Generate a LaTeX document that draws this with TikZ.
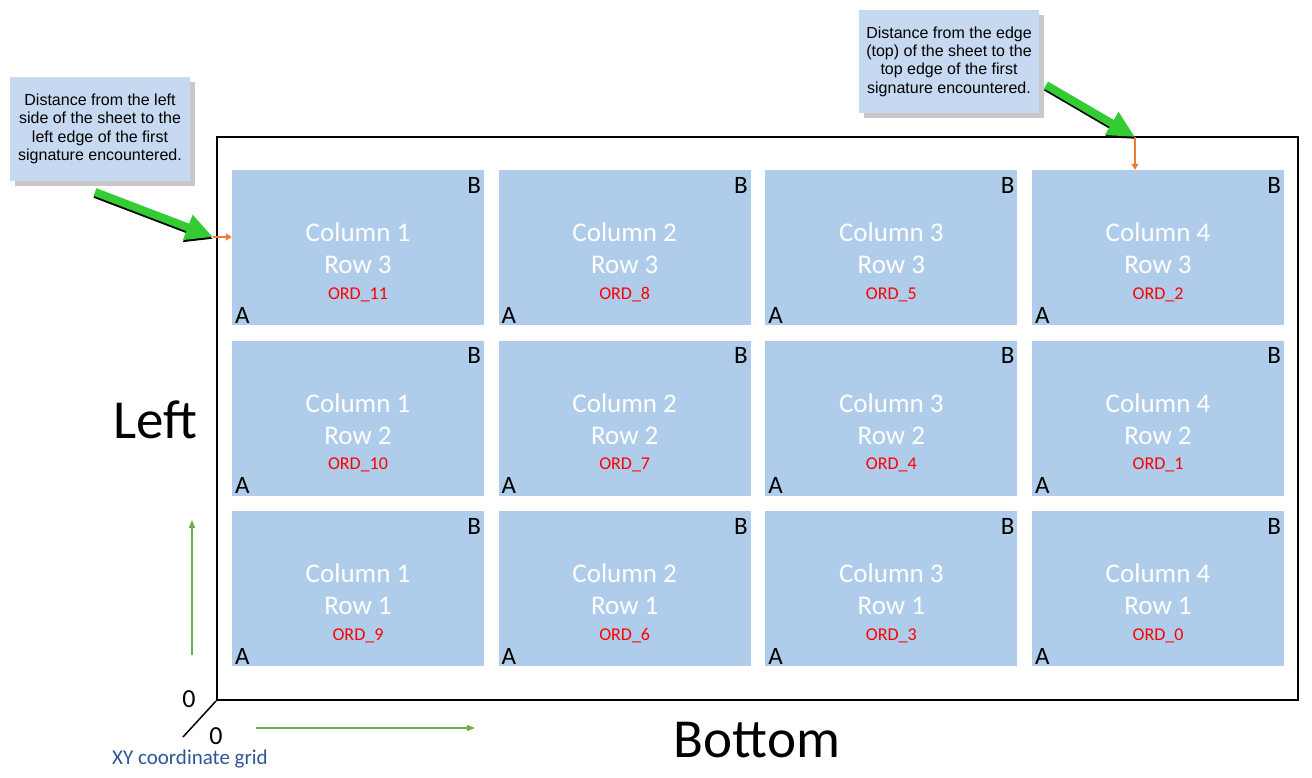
\documentclass[tikz,border=0pt]{standalone}
\usepackage{fontspec}
\setmainfont{Carlito}
\newfontfamily\calloutfont{Liberation Sans}
\usepackage{tikz}
\usetikzlibrary{arrows.meta, shadows}
\usepackage{xcolor}
\definecolor{cellBlue}{HTML}{AFCDEA}
\definecolor{calloutBlue}{HTML}{C6D9F0}
\definecolor{shadowGray}{HTML}{C8C8C8}
\definecolor{fatGreen}{HTML}{33CC33}
\definecolor{tickOrange}{HTML}{ED7D31}
\definecolor{axisGreen}{HTML}{70AD47}
\definecolor{gridBlue}{HTML}{2F5597}
\definecolor{ordRed}{HTML}{FF0000}

\begin{document}
\begin{tikzpicture}[
    x=1pt, y=-1pt,
    sheet/.style={rectangle, draw, line width=2pt, minimum width=1081pt, minimum height=563pt, inner sep=0pt},
    cell/.style={rectangle, fill=cellBlue, minimum width=252pt, minimum height=155pt, inner sep=0pt},
    celltext/.style={text=white, align=center, font=\fontsize{27}{32}\selectfont},
    ord/.style={text=ordRed, font=\fontsize{18}{21}\selectfont},
    corner/.style={inner sep=0pt, font=\fontsize{25}{28}\selectfont},
    side/.style={font=\fontsize{55}{62}\selectfont},
    zero/.style={font=\fontsize{26}{30}\selectfont},
    callout/.style={rectangle, fill=calloutBlue, minimum width=180pt, minimum height=104pt, align=center,
        font=\calloutfont\fontsize{16}{18.3}\selectfont,
        general shadow={fill=shadowGray, shadow xshift=5pt, shadow yshift=-5pt}},
    fat/.style={-{Triangle[length=27pt, width=25pt]}, line width=8pt},
    tick/.style={-{Triangle[length=6pt, width=7pt]}, line width=1.3pt, draw=tickOrange},
    axis/.style={-{Triangle[length=8pt, width=6pt]}, line width=1.2pt, draw=axisGreen},
]
    \useasboundingbox (0,0) rectangle (1312,778);

    % Sheet
    \node[sheet] (sheet) at (757.5,418.5) {};

    % Signatures
    \foreach \c in {1,...,4}
      \foreach \r in {1,2,3} {
        \pgfmathtruncatemacro\ord{(4-\c)*3+\r-1}
        \node[cell] (cell-\c-\r) at ({358+(\c-1)*266.67},{247.5+(3-\r)*170.5}) {};
        \node[celltext] at ([yshift=-1pt]cell-\c-\r.center) {Column \c\\Row \r};
        \node[ord] at ([yshift=-47pt]cell-\c-\r.center) {ORD\_\ord};
        \node[corner, anchor=north east] at ([xshift=-3pt,yshift=-7pt]cell-\c-\r.north east) {B};
        \node[corner, anchor=south west] at ([xshift=3pt,yshift=2pt]cell-\c-\r.south west) {A};
      }

    % Side labels
    \node[side] (left) at (155,420) {Left};
    \node[side] (bottom) at (757,740) {Bottom};

    % Origin
    \coordinate (corner3d) at (183,737);
    \draw[line width=1.5pt] (sheet.south west) -- (corner3d);
    \node[zero] (zeroy) at (189,699) {0};
    \node[zero] (zerox) at (216,736) {0};
    \node[text=gridBlue, font=\fontsize{21}{25}\selectfont] (grid) at (190,759) {XY coordinate grid};

    % Axis arrows
    \coordinate (yfrom) at (192,655);
    \coordinate (yto) at (192,520);
    \coordinate (xfrom) at (256,728);
    \coordinate (xto) at (475,728);
    \draw[axis] (yfrom) -- (yto);
    \draw[axis] (xfrom) -- (xto);

    % Callouts
    \node[callout] (leftnote) at (100,129) {Distance from the left\\side of the sheet to the\\left edge of the first\\signature encountered.};
    \node[callout, minimum height=103pt] (topnote) at (949,61.5) {Distance from the edge\\(top) of the sheet to the\\top edge of the first\\signature encountered.};

    % Offset markers
    \coordinate (lmark) at (213,237);
    \coordinate (tmark) at (1135,137);
    \coordinate (ltail) at (95,192);
    \coordinate (ttail) at (1046,85);
    \draw[tick] (lmark) -- (lmark -| cell-1-3.west);
    \draw[tick] (tmark) -- (tmark |- cell-4-3.north);

    % Pointers
    \draw[fat, draw=black, transform canvas={yshift=-2pt}] (ltail) -- (lmark);
    \draw[fat, draw=fatGreen] (ltail) -- (lmark);
    \draw[fat, draw=black, transform canvas={yshift=-2pt}] (ttail) -- (tmark);
    \draw[fat, draw=fatGreen] (ttail) -- (tmark);
\end{tikzpicture}
\end{document}
